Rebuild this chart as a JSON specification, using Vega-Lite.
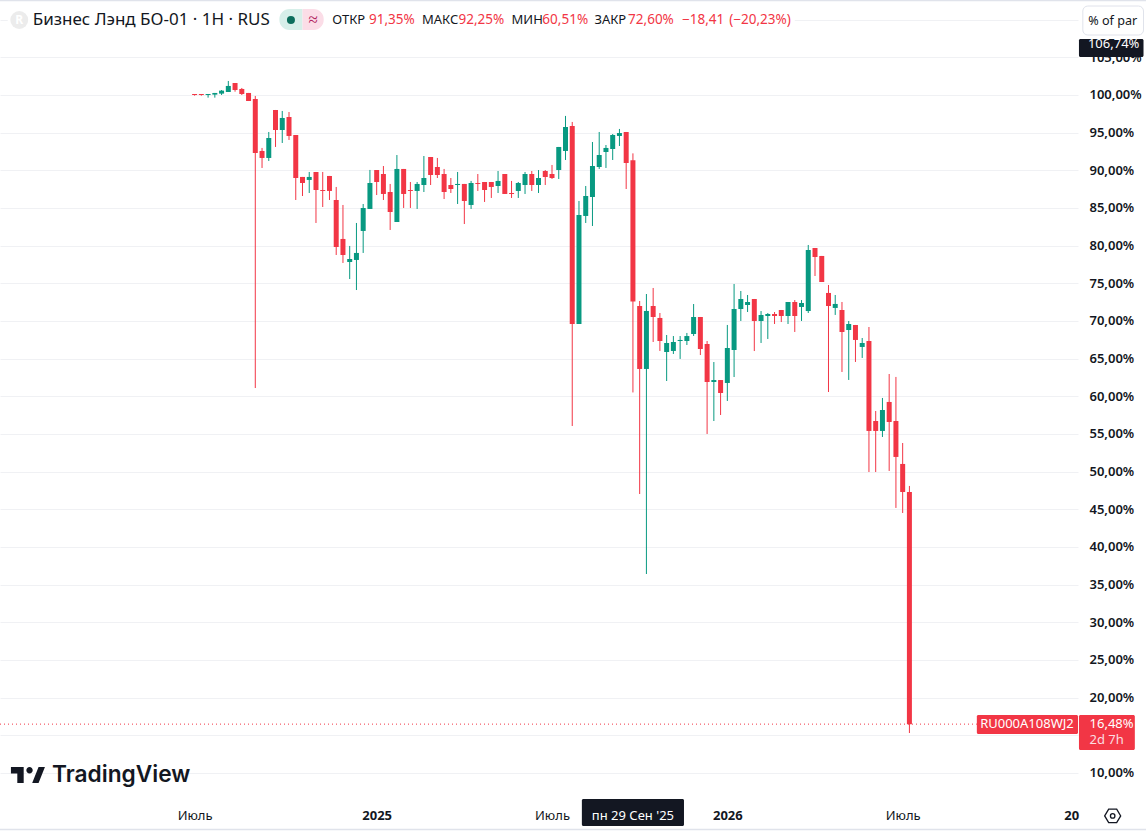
{
  "$schema": "https://vega.github.io/schema/vega-lite/v6.json",
  "autosize": {"type": "none"},
  "padding": {"left": 0, "top": 0, "right": 68, "bottom": 36},
  "width": 1078,
  "height": 796,
  "background": "white",
  "config": {
    "view": {"stroke": null},
    "font": "Noto Sans"
  },
  "datasets": {
    "candles": [
      {"d":"2024-07-01","o":100.13,"h":100.13,"l":99.91,"c":100.0},
      {"d":"2024-07-08","o":100.13,"h":100.13,"l":99.91,"c":100.0},
      {"d":"2024-07-15","o":100.0,"h":100.13,"l":99.65,"c":100.13},
      {"d":"2024-07-22","o":100.05,"h":100.27,"l":99.65,"c":100.27},
      {"d":"2024-07-29","o":100.18,"h":100.66,"l":100.0,"c":100.58},
      {"d":"2024-08-05","o":100.4,"h":101.86,"l":100.4,"c":101.2},
      {"d":"2024-08-12","o":101.59,"h":101.59,"l":100.44,"c":100.66},
      {"d":"2024-08-19","o":100.8,"h":100.93,"l":100.0,"c":100.13},
      {"d":"2024-08-26","o":100.27,"h":100.27,"l":99.2,"c":99.2},
      {"d":"2024-09-02","o":99.47,"h":99.87,"l":61.1,"c":92.3},
      {"d":"2024-09-09","o":92.57,"h":92.97,"l":90.31,"c":91.64},
      {"d":"2024-09-16","o":91.64,"h":95.09,"l":91.24,"c":94.29},
      {"d":"2024-09-23","o":98.01,"h":98.01,"l":93.1,"c":95.35},
      {"d":"2024-09-30","o":95.35,"h":97.88,"l":93.63,"c":96.95},
      {"d":"2024-10-07","o":97.08,"h":97.74,"l":94.03,"c":94.56},
      {"d":"2024-10-14","o":94.69,"h":94.69,"l":86.06,"c":88.98},
      {"d":"2024-10-21","o":89.12,"h":89.12,"l":86.59,"c":88.32},
      {"d":"2024-10-28","o":88.72,"h":89.78,"l":86.99,"c":89.12},
      {"d":"2024-11-04","o":89.78,"h":89.78,"l":83.01,"c":87.39},
      {"d":"2024-11-11","o":87.39,"h":89.78,"l":85.13,"c":87.26},
      {"d":"2024-11-18","o":89.25,"h":89.25,"l":86.06,"c":87.26},
      {"d":"2024-11-25","o":86.06,"h":87.79,"l":78.76,"c":79.82},
      {"d":"2024-12-02","o":80.89,"h":85.4,"l":77.7,"c":78.76},
      {"d":"2024-12-09","o":77.83,"h":79.96,"l":75.57,"c":78.23},
      {"d":"2024-12-16","o":78.1,"h":83.01,"l":74.11,"c":79.03},
      {"d":"2024-12-23","o":81.95,"h":85.53,"l":79.03,"c":85.0},
      {"d":"2024-12-30","o":84.87,"h":90.05,"l":84.87,"c":88.32},
      {"d":"2025-01-06","o":90.04,"h":90.04,"l":86.72,"c":88.45},
      {"d":"2025-01-13","o":89.51,"h":90.57,"l":86.06,"c":86.86},
      {"d":"2025-01-20","o":87.12,"h":88.19,"l":82.08,"c":84.47},
      {"d":"2025-01-27","o":83.14,"h":92.03,"l":83.14,"c":90.18},
      {"d":"2025-02-03","o":90.18,"h":90.18,"l":85.0,"c":86.86},
      {"d":"2025-02-10","o":87.39,"h":88.45,"l":85.0,"c":87.26},
      {"d":"2025-02-17","o":87.26,"h":88.45,"l":84.87,"c":88.19},
      {"d":"2025-02-24","o":88.05,"h":91.9,"l":87.12,"c":88.98},
      {"d":"2025-03-03","o":91.77,"h":91.77,"l":88.05,"c":89.38},
      {"d":"2025-03-10","o":90.44,"h":91.64,"l":88.98,"c":89.38},
      {"d":"2025-03-17","o":89.51,"h":90.18,"l":86.19,"c":87.12},
      {"d":"2025-03-24","o":88.05,"h":88.98,"l":86.99,"c":87.52},
      {"d":"2025-03-31","o":88.05,"h":89.78,"l":85.53,"c":88.19},
      {"d":"2025-04-07","o":88.19,"h":88.19,"l":82.87,"c":85.93},
      {"d":"2025-04-14","o":85.4,"h":88.59,"l":84.87,"c":88.32},
      {"d":"2025-04-21","o":88.32,"h":89.51,"l":87.26,"c":88.19},
      {"d":"2025-04-28","o":88.45,"h":88.45,"l":85.8,"c":87.39},
      {"d":"2025-05-05","o":88.45,"h":88.45,"l":86.33,"c":87.79},
      {"d":"2025-05-12","o":87.92,"h":89.91,"l":86.99,"c":88.59},
      {"d":"2025-05-19","o":89.51,"h":89.51,"l":86.86,"c":86.86},
      {"d":"2025-05-26","o":86.99,"h":88.59,"l":86.33,"c":86.86},
      {"d":"2025-06-02","o":87.26,"h":88.45,"l":86.33,"c":88.32},
      {"d":"2025-06-09","o":88.05,"h":89.78,"l":86.86,"c":89.51},
      {"d":"2025-06-16","o":89.51,"h":89.91,"l":87.26,"c":88.05},
      {"d":"2025-06-23","o":88.05,"h":90.04,"l":86.99,"c":88.98},
      {"d":"2025-06-30","o":89.91,"h":90.04,"l":88.05,"c":89.11},
      {"d":"2025-07-07","o":89.51,"h":90.71,"l":88.85,"c":88.98},
      {"d":"2025-07-14","o":90.04,"h":93.1,"l":88.85,"c":93.1},
      {"d":"2025-07-21","o":92.57,"h":97.22,"l":91.37,"c":95.75},
      {"d":"2025-07-28","o":95.88,"h":96.42,"l":56.06,"c":69.6},
      {"d":"2025-08-04","o":69.6,"h":85.93,"l":69.6,"c":84.07},
      {"d":"2025-08-11","o":83.94,"h":87.92,"l":83.01,"c":86.59},
      {"d":"2025-08-18","o":86.46,"h":93.76,"l":82.61,"c":90.57},
      {"d":"2025-08-25","o":90.44,"h":95.09,"l":90.18,"c":92.03},
      {"d":"2025-09-01","o":92.43,"h":93.36,"l":90.31,"c":92.97},
      {"d":"2025-09-08","o":92.83,"h":94.82,"l":91.37,"c":94.69},
      {"d":"2025-09-15","o":94.56,"h":95.49,"l":93.23,"c":94.95},
      {"d":"2025-09-22","o":95.09,"h":95.09,"l":87.52,"c":90.97},
      {"d":"2025-09-29","o":91.35,"h":92.25,"l":60.51,"c":72.6},
      {"d":"2025-10-06","o":71.99,"h":72.65,"l":47.03,"c":63.63},
      {"d":"2025-10-13","o":63.63,"h":73.58,"l":36.41,"c":71.33},
      {"d":"2025-10-20","o":71.99,"h":74.38,"l":67.21,"c":70.53},
      {"d":"2025-10-27","o":70.4,"h":71.06,"l":66.02,"c":67.34},
      {"d":"2025-11-03","o":65.88,"h":68.14,"l":62.03,"c":67.08},
      {"d":"2025-11-10","o":66.02,"h":68.0,"l":65.62,"c":67.21},
      {"d":"2025-11-17","o":67.34,"h":68.0,"l":64.96,"c":67.48},
      {"d":"2025-11-24","o":67.34,"h":68.41,"l":66.81,"c":68.0},
      {"d":"2025-12-01","o":68.27,"h":72.25,"l":68.01,"c":70.53},
      {"d":"2025-12-08","o":70.53,"h":70.53,"l":65.48,"c":66.28},
      {"d":"2025-12-15","o":66.94,"h":67.34,"l":55.0,"c":61.9},
      {"d":"2025-12-22","o":61.9,"h":64.55,"l":56.72,"c":62.16},
      {"d":"2025-12-29","o":62.16,"h":62.16,"l":57.52,"c":60.44},
      {"d":"2026-01-05","o":61.77,"h":69.47,"l":59.38,"c":66.41},
      {"d":"2026-01-12","o":66.15,"h":74.91,"l":62.56,"c":71.59},
      {"d":"2026-01-19","o":71.59,"h":73.98,"l":70.0,"c":72.92},
      {"d":"2026-01-26","o":72.12,"h":73.45,"l":71.19,"c":72.52},
      {"d":"2026-02-02","o":72.92,"h":72.92,"l":66.01,"c":70.0},
      {"d":"2026-02-09","o":70.0,"h":71.32,"l":67.08,"c":70.79},
      {"d":"2026-02-16","o":70.66,"h":71.06,"l":67.61,"c":70.93},
      {"d":"2026-02-23","o":70.93,"h":71.19,"l":69.6,"c":70.66},
      {"d":"2026-03-02","o":71.46,"h":71.46,"l":69.86,"c":70.66},
      {"d":"2026-03-09","o":70.66,"h":72.52,"l":69.6,"c":72.52},
      {"d":"2026-03-16","o":72.52,"h":72.78,"l":68.54,"c":70.66},
      {"d":"2026-03-23","o":71.86,"h":72.78,"l":70.0,"c":72.39},
      {"d":"2026-03-30","o":71.32,"h":80.09,"l":71.06,"c":79.42},
      {"d":"2026-04-06","o":79.69,"h":79.69,"l":75.97,"c":78.49},
      {"d":"2026-04-13","o":78.63,"h":78.63,"l":75.17,"c":75.17},
      {"d":"2026-04-20","o":73.72,"h":74.78,"l":60.57,"c":71.99},
      {"d":"2026-04-27","o":71.73,"h":73.45,"l":70.8,"c":72.26},
      {"d":"2026-05-04","o":71.46,"h":72.52,"l":63.23,"c":68.54},
      {"d":"2026-05-11","o":68.8,"h":70.0,"l":62.17,"c":69.6},
      {"d":"2026-05-18","o":69.47,"h":69.47,"l":64.56,"c":67.48},
      {"d":"2026-05-25","o":66.55,"h":67.74,"l":65.09,"c":67.08},
      {"d":"2026-06-01","o":67.34,"h":69.2,"l":49.95,"c":55.4},
      {"d":"2026-06-08","o":56.72,"h":58.05,"l":49.95,"c":55.4},
      {"d":"2026-06-15","o":55.4,"h":59.78,"l":54.6,"c":58.18},
      {"d":"2026-06-22","o":59.25,"h":62.96,"l":50.09,"c":56.59},
      {"d":"2026-06-29","o":56.72,"h":62.57,"l":45.18,"c":51.95},
      {"d":"2026-07-06","o":51.02,"h":53.8,"l":44.51,"c":47.3},
      {"d":"2026-07-13","o":47.3,"h":48.1,"l":15.3,"c":16.48}
    ]
  },
  "encoding": {
    "x": {
      "field": "d",
      "type": "temporal",
      "title": null,
      "scale": {"type": "utc", "domain": ["2023-12-12", "2027-01-04"], "padding": 0},
      "axis": {
        "values": ["2024-07-01", "2025-01-06", "2025-07-07", "2026-01-05", "2026-07-06", "2026-12-28"],
        "labelExpr": "utcmonth(datum.value) == 6 ? 'Июль' : utcmonth(datum.value) == 11 ? '20' : '' + utcyear(datum.value)",
        "labelFontSize": 13,
        "labelFontWeight": {"condition": {"test": "utcmonth(datum.value) != 6", "value": "bold"}, "value": "normal"},
        "labelColor": "#131722",
        "labelPadding": 13,
        "labelFlush": false,
        "labelOverlap": false,
        "labelBound": false,
        "domain": false,
        "ticks": false,
        "grid": false
      }
    },
    "y": {
      "field": "v",
      "type": "quantitative",
      "title": null,
      "scale": {"domain": [6.94, 112.61]},
      "axis": {
        "orient": "right",
        "values": [10, 15, 20, 25, 30, 35, 40, 45, 50, 55, 60, 65, 70, 75, 80, 85, 90, 95, 100, 105, 110],
        "labelExpr": "datum.value == 110 || datum.value == 15 ? '' : replace(format(datum.value, '.2f'), '.', ',') + '%'",
        "labelFontSize": 13,
        "labelFontWeight": 600,
        "labelColor": "#131722",
        "labelPadding": 11,
        "labelOverlap": false,
        "labelBound": false,
        "labelFlush": false,
        "domain": false,
        "ticks": false,
        "grid": true,
        "gridColor": "#f0f1f4",
        "gridWidth": 1
      }
    }
  },
  "layer": [
    {
      "data": {"values": [
        {"d": "2023-12-12", "d2": "2027-06-30", "v": 112.55},
        {"d": "2023-12-12", "d2": "2027-06-30", "v": 2.5}
      ]},
      "mark": {"type": "rule", "color": "#e0e3eb", "strokeWidth": 1.5},
      "encoding": {"x2": {"field": "d2"}}
    },
    {
      "data": {"values": [{"d": "2023-12-20", "d2": "2026-03-16", "v": 111.55, "v2": 108.63}]},
      "mark": {"type": "rect", "color": "white"},
      "encoding": {"x2": {"field": "d2"}, "y2": {"field": "v2"}}
    },
    {
      "data": {"values": [{"d": "2023-12-12", "d2": "2026-09-21", "v": 16.48}]},
      "mark": {"type": "rule", "color": "#f23645", "strokeWidth": 1, "strokeDash": [1, 3]},
      "encoding": {"x2": {"field": "d2"}}
    },
    {
      "data": {"name": "candles"},
      "mark": {"type": "rule", "strokeWidth": 1},
      "encoding": {
        "y": {"field": "l", "type": "quantitative", "title": null, "scale": {"domain": [6.94, 112.61]}},
        "y2": {"field": "h"},
        "color": {"condition": {"test": "datum.c >= datum.o", "value": "#089981"}, "value": "#f23645"}
      }
    },
    {
      "data": {"name": "candles"},
      "mark": {"type": "bar", "size": 5},
      "encoding": {
        "y": {"field": "o", "type": "quantitative", "title": null, "scale": {"domain": [6.94, 112.61]}},
        "y2": {"field": "c"},
        "color": {"condition": {"test": "datum.c >= datum.o", "value": "#089981"}, "value": "#f23645"}
      }
    },
    {
      "data": {"values": [
        {"d": "2026-09-21", "d2": "2027-01-04", "v": 17.7, "v2": 15.17},
        {"d": "2027-01-05", "d2": "2027-03-04", "v": 17.7, "v2": 13.05}
      ]},
      "mark": {"type": "rect", "color": "#f23645", "cornerRadius": 1.5},
      "encoding": {"x2": {"field": "d2"}, "y2": {"field": "v2"}}
    },
    {
      "data": {"values": [
        {"d": "2027-01-05", "d2": "2027-03-13", "v": 107.43, "v2": 105.04},
        {"d": "2025-08-07", "d2": "2025-11-21", "v": 6.54, "v2": 2.96}
      ]},
      "mark": {"type": "rect", "color": "#131722", "cornerRadius": 1.5},
      "encoding": {"x2": {"field": "d2"}, "y2": {"field": "v2"}}
    },
    {
      "data": {"values": [{"d": "2027-01-09", "d2": "2027-03-13", "v": 111.81, "v2": 107.96}]},
      "mark": {"type": "rect", "color": "white", "stroke": "#e0e3eb", "strokeWidth": 1, "cornerRadius": 5},
      "encoding": {"x2": {"field": "d2"}, "y2": {"field": "v2"}}
    },
    {
      "data": {"values": [{"d": "2024-09-27", "d2": "2024-10-21", "v": 111.41, "v2": 108.63}]},
      "mark": {"type": "rect", "color": "#d6efe9", "cornerRadiusTopLeft": 10, "cornerRadiusBottomLeft": 10},
      "encoding": {"x2": {"field": "d2"}, "y2": {"field": "v2"}}
    },
    {
      "data": {"values": [{"d": "2024-10-21", "d2": "2024-11-12", "v": 111.41, "v2": 108.63}]},
      "mark": {"type": "rect", "color": "#fbdde7", "cornerRadiusTopRight": 10, "cornerRadiusBottomRight": 10},
      "encoding": {"x2": {"field": "d2"}, "y2": {"field": "v2"}}
    },
    {
      "data": {"values": [{"d": "2024-01-01", "v": 109.96}]},
      "mark": {"type": "point", "shape": "circle", "filled": true, "color": "#ececec", "opacity": 1, "size": 320}
    },
    {
      "data": {"values": [{"d": "2024-10-09", "v": 109.96}]},
      "mark": {"type": "point", "shape": "circle", "filled": true, "color": "#0b6e5c", "opacity": 1, "size": 64}
    },
    {
      "data": {"values": [{"d": "2024-01-10", "v": 9.73}]},
      "mark": {
        "type": "point",
        "shape": "M-0.125 -0.234H-0.5V-0.047H-0.3125V0.234H-0.125ZM0.3125 0.234L0.5 -0.234H0.3125L0.125 0.234ZM0.047 -0.234A0.094 0.094 0 1 0 0.047 -0.046A0.094 0.094 0 1 0 0.047 -0.234Z",
        "filled": true,
        "color": "#131722",
        "opacity": 1,
        "size": 4624
      }
    },
    {
      "data": {"values": [{"d": "2027-02-09", "v": 4.3}]},
      "mark": {
        "type": "point",
        "shape": "M-1 0L-0.5 -0.85L0.5 -0.85L1 0L0.5 0.85L-0.5 0.85Z",
        "color": "#131722",
        "opacity": 1,
        "strokeWidth": 1.3,
        "size": 256
      }
    },
    {
      "data": {"values": [{"d": "2027-02-09", "v": 4.3}]},
      "mark": {"type": "point", "shape": "circle", "color": "#131722", "opacity": 1, "strokeWidth": 1.3, "size": 20}
    },
    {
      "data": {"values": [{"d": "2024-01-15", "v": 110.0, "t": "Бизнес Лэнд БО-01 · 1Н · RUS"}]},
      "mark": {"type": "text", "align": "left", "baseline": "middle", "fontSize": 17, "color": "#131722"},
      "encoding": {"text": {"field": "t"}}
    },
    {
      "data": {"values": [
        {"d": "2024-11-21", "v": 110.0, "t": "ОТКР"},
        {"d": "2025-02-22", "v": 110.0, "t": "МАКС"},
        {"d": "2025-05-26", "v": 110.0, "t": "МИН"},
        {"d": "2025-08-20", "v": 110.0, "t": "ЗАКР"}
      ]},
      "mark": {"type": "text", "align": "left", "baseline": "middle", "fontSize": 13, "color": "#131722"},
      "encoding": {"text": {"field": "t"}}
    },
    {
      "data": {"values": [
        {"d": "2024-12-29", "v": 110.0, "t": "91,35%"},
        {"d": "2025-04-01", "v": 110.0, "t": "92,25%"},
        {"d": "2025-06-27", "v": 110.0, "t": "60,51%"},
        {"d": "2025-09-24", "v": 110.0, "t": "72,60%"},
        {"d": "2025-11-19", "v": 110.0, "t": "−18,41"},
        {"d": "2026-01-07", "v": 110.0, "t": "(−20,23%)"}
      ]},
      "mark": {"type": "text", "align": "left", "baseline": "middle", "fontSize": 13.5, "color": "#f23645"},
      "encoding": {"text": {"field": "t"}}
    },
    {
      "data": {"values": [{"d": "2024-11-01", "v": 110.0, "t": "≈"}]},
      "mark": {"type": "text", "align": "center", "baseline": "middle", "fontSize": 17, "color": "#b0205c"},
      "encoding": {"text": {"field": "t"}}
    },
    {
      "data": {"values": [{"d": "2024-01-01", "v": 109.96, "t": "R"}]},
      "mark": {"type": "text", "align": "center", "baseline": "middle", "fontSize": 12, "fontWeight": "bold", "color": "white"},
      "encoding": {"text": {"field": "t"}}
    },
    {
      "data": {"values": [{"d": "2024-02-04", "v": 9.73, "t": "TradingView"}]},
      "mark": {"type": "text", "align": "left", "baseline": "middle", "font": "Inter", "fontSize": 22.7, "fontWeight": 600, "color": "#131722"},
      "encoding": {"text": {"field": "t"}}
    },
    {
      "data": {"values": [{"d": "2027-02-09", "v": 109.85, "t": "% of par"}]},
      "mark": {"type": "text", "align": "center", "baseline": "middle", "fontSize": 12.6, "color": "#131722"},
      "encoding": {"text": {"field": "t"}}
    },
    {
      "data": {"values": [
        {"d": "2027-02-10", "v": 106.74, "t": "106,74%"},
        {"d": "2025-09-29", "v": 4.35, "t": "пн 29 Сен '25"},
        {"d": "2026-11-12", "v": 16.48, "t": "RU000A108WJ2"}
      ]},
      "mark": {"type": "text", "align": "center", "baseline": "middle", "fontSize": 13, "color": "white"},
      "encoding": {"text": {"field": "t"}}
    },
    {
      "data": {"values": [{"d": "2027-01-16", "v": 16.48, "t": "16,48%"}]},
      "mark": {"type": "text", "align": "left", "baseline": "middle", "fontSize": 13, "color": "white"},
      "encoding": {"text": {"field": "t"}}
    },
    {
      "data": {"values": [{"d": "2027-01-16", "v": 14.37, "t": "2d 7h"}]},
      "mark": {"type": "text", "align": "left", "baseline": "middle", "fontSize": 13, "color": "#fbdde0"},
      "encoding": {"text": {"field": "t"}}
    }
  ]
}
